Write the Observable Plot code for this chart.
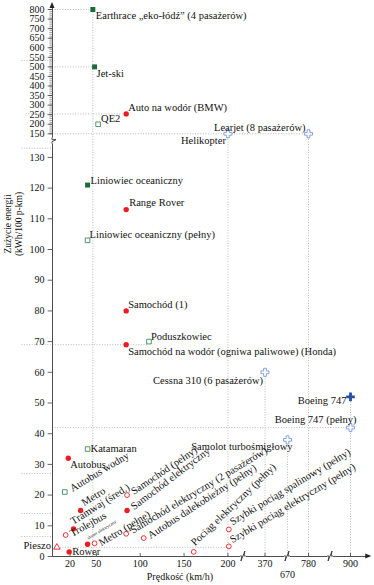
<!DOCTYPE html>
<html>
<head>
<meta charset="utf-8">
<script src="https://cdn.jsdelivr.net/npm/d3@7"></script>
<script src="https://cdn.jsdelivr.net/npm/@observablehq/plot@0.6"></script>
<style>
  html, body { margin: 0; padding: 0; background: #fff; }
  #chart svg { display: block; }
</style>
</head>
<body>
<div id="chart"></div>
<script>
// ---------- data ----------
const names = [
  "Earthrace „eko-łódź” (4 pasażerów)", "Jet-ski", "Auto na wodór (BMW)", "QE2",
  "Helikopter", "Learjet (8 pasażerów)", "Liniowiec oceaniczny", "Range Rover",
  "Liniowiec oceaniczny (pełny)", "Samochód (1)", "Poduszkowiec",
  "Samochód na wodór (ogniwa paliwowe) (Honda)", "Cessna 310 (6 pasażerów)",
  "Boeing 747", "Boeing 747 (pełny)", "Samolot turbośmigłowy", "Katamaran",
  "Autobus", "Autobus wodny", "Metro", "Tramwaj (śred.)", "Trolejbus",
  "skuter elektryczny", "Metro (pełne)", "Samochód (pełny)", "Samochód elektryczny",
  "Samochód elektryczny (2 pasażerów)", "Autobus dalekobieżny (pełny)",
  "Pociąg elektryczny (pełny)", "Szybki pociąg spalinowy (pełny)",
  "Szybki pociąg elektryczny (pełny)", "Pieszo", "Rower"
];
const speeds = [46, 48, 84, 52, 200, 780, 40, 84, 40, 84, 110, 84, 370, 900, 900, 670, 40,
  18, 14, 32, 24, 15, 40, 48, 85, 85, 84, 104, 161, 201, 201, 5, 19];
const energies = [800, 500, 254, 200, 150, 150, 121, 113, 103, 80, 70, 69, 60, 52, 42, 38, 35,
  32, 21, 15, 9, 7, 4, 4.3, 20, 15, 7.4, 6, 1.5, 8.8, 3.3, 3, 1.5];
const kinds = ["boatF", "boatF", "carF", "boatO", "planeO", "planeO", "boatF", "carF",
  "boatO", "carF", "boatO", "carF", "planeO", "planeF", "planeO", "planeO", "boatO",
  "carF", "boatO", "carF", "carF", "carO", "carF", "carO", "carO", "carF", "carO", "carO",
  "carO", "carO", "carO", "walk", "carF"];

// axis tick values
const yTicksLow = [0, 10, 20, 30, 40, 50, 60, 70, 80, 90, 100, 110, 120, 130];
const yTicksHigh = [150, 200, 250, 300, 350, 400, 450, 500, 550, 600, 650, 700, 750, 800];
const yMinorHigh = d3.range(150, 801, 10);
const xTicks = [20, 50, 100, 150, 200, 370, 780, 900];
const xTicksLow = [670];
const xBreaks = [248, 670, 843];
const yBreaks = [135.3];
const yTitle = ["Zużycie energii", "(kWh/100 p-km)"];
const xTitle = "Prędkość (km/h)";

// dotted guide lines (derived from the points)
const vGuideSpeed = [46, 200, 370, 670, 780, 900];
const vGuideTop = [800, 150, 60, 38, 150, 52];
const hGuideEnergy = [800, 500, 254, 150, 69, 42, 3];
const hGuideFrom = [0, 0, -30, 0, -35, 0, 0];
const hGuideTo = [46, 48, 84, 780, 110, 900, 201];
const stubEnergy = [533, 133, 27, 14, 6.5];

// ---------- layout / style ----------
const labelLayout = [
  [3, 6, "start", 0], [2, 7, "start", 0], [2, -6, "start", 0], [3, -6, "start", 0],
  [-2, 7, "end", 0], [-3, -6, "end", 0], [3, -4, "start", 0], [3, -7, "start", 0],
  [2, -6, "start", 0], [2, -6, "start", 0], [2, -5, "start", 0], [2, 7, "start", 0],
  [-2, 8, "end", 0], [-4, 4, "end", 0], [6, -8, "end", 0], [5, 7, "end", 0],
  [3, 0, "start", 0], [2, 6, "start", 0],
  [6, -3, "start", -31], [2, -7, "start", -32], [-2, -7, "start", -32], [5, -1, "start", -29],
  [0, -6, "start", -31], [5, 0, "start", -31], [5, -3, "start", -34], [5, -3, "start", -37],
  [5, -3, "start", -31], [5, -2, "start", -33], [-1, -8, "start", -44], [2, -7, "start", -31],
  [2, -6, "start", -31], [-6, -2, "end", 0], [3, 0, "start", 0]
];
const RED = "#ec1c24", GREEN = "#1b6b3a", GREEN2 = "#3d8a5c", BLUE = "#2a4ea6", BLUE2 = "#7b98d6";
const kindStyle = {
  carF:   {symbol: "circle", fill: RED, stroke: "none", r: 2.7},
  carO:   {symbol: "circle", fill: "white", stroke: RED, r: 2.4},
  boatF:  {symbol: "square", fill: GREEN, stroke: "none", r: 2.8},
  boatO:  {symbol: "square", fill: "white", stroke: GREEN2, r: 2.6},
  planeF: {symbol: "cross", fill: BLUE, stroke: "none", r: 3.6},
  planeO: {symbol: "cross", fill: "white", stroke: BLUE2, r: 3.4},
  walk:   {symbol: "triangle", fill: "white", stroke: RED, r: 2.4}
};

const points = names.map((name, i) => ({name, speed: speeds[i], energy: energies[i], kind: kinds[i], i}));

const FONT = "'Liberation Serif', 'DejaVu Serif', serif";
const dotted = {stroke: "#a8a8a8", strokeWidth: 0.8, strokeDasharray: "1,1.6"};

const marks = [];

// guides
marks.push(Plot.ruleX(vGuideSpeed.map((s, i) => ({s, top: vGuideTop[i]})),
  {x: "s", y1: 0, y2: "top", ...dotted}));
marks.push(Plot.ruleY(hGuideEnergy.map((e, i) => ({e, a: hGuideFrom[i], b: hGuideTo[i]})),
  {y: "e", x1: "a", x2: "b", ...dotted}));
marks.push(Plot.ruleY(stubEnergy, {y: d => d, x1: -35, x2: 0, ...dotted}));

// axes
marks.push(Plot.ruleX([0], {y1: 0, y2: 826, stroke: "#222", strokeWidth: 0.8}));
marks.push(Plot.ruleY([0], {x1: 0, x2: 955, stroke: "#222", strokeWidth: 0.8}));
marks.push(Plot.ruleY(yMinorHigh, {y: d => d, x1: -3, x2: 0, stroke: "#444", strokeWidth: 0.5}));
marks.push(Plot.ruleY([...yTicksLow, ...yTicksHigh], {y: d => d, x1: -5, x2: 0, stroke: "#222", strokeWidth: 0.7}));
marks.push(Plot.text([...yTicksLow, ...yTicksHigh], {x: 0, y: d => d, text: d => String(d),
  textAnchor: "end", dx: -8, fontSize: 10, fill: "#111"}));
marks.push(Plot.ruleX([...xTicks, ...xTicksLow], {x: d => d, y1: 0, y2: 1, stroke: "#222", strokeWidth: 0.7}));
marks.push(Plot.text(xTicks, {x: d => d, y: 0, text: d => String(d), dy: 7, fontSize: 10, fill: "#111"}));
marks.push(Plot.text(xTicksLow, {x: d => d, y: 0, text: d => String(d), dy: 18, fontSize: 10, fill: "#111"}));

// breaks and arrowheads
marks.push((index, scales) => {
  const g = d3.create("svg:g");
  const x0 = scales.x(0), y0 = scales.y(0);
  for (const b of yBreaks) {
    const y = scales.y(b);
    g.append("rect").attr("x", x0 - 3).attr("y", y - 3).attr("width", 6).attr("height", 6).attr("fill", "white");
    g.append("path").attr("d", `M${x0},${y + 3} L${x0},${y + 1} L${x0 + 4},${y - 1} L${x0},${y - 1} L${x0},${y - 3}`)
      .attr("fill", "none").attr("stroke", "#222").attr("stroke-width", 0.8);
  }
  for (const b of xBreaks) {
    const x = scales.x(b);
    g.append("rect").attr("x", x - 3).attr("y", y0 - 3).attr("width", 6).attr("height", 6).attr("fill", "white");
    g.append("path").attr("d", `M${x - 3},${y0} L${x - 1},${y0} L${x - 2},${y0 + 5} L${x + 2},${y0 - 5} L${x + 1},${y0} L${x + 3},${y0}`)
      .attr("fill", "none").attr("stroke", "#222").attr("stroke-width", 0.8);
  }
  const yt = scales.y(826), xr = scales.x(955);
  g.append("path").attr("d", `M${x0 - 2.5},${yt + 4} L${x0},${yt - 2} L${x0 + 2.5},${yt + 4} Z`).attr("fill", "#222");
  g.append("path").attr("d", `M${xr - 4},${y0 - 2.5} L${xr + 2},${y0} L${xr - 4},${y0 + 2.5} Z`).attr("fill", "#222");
  return g.node();
});

// points
for (const k of Object.keys(kindStyle)) {
  const s = kindStyle[k];
  marks.push(Plot.dot(points.filter(d => d.kind === k), {
    x: "speed", y: "energy", symbol: s.symbol, r: s.r, fill: s.fill, stroke: s.stroke, strokeWidth: 0.9
  }));
}

// labels
points.forEach((d, i) => {
  const [dx, dy, anchor, rot] = labelLayout[i];
  marks.push(Plot.text([d], {
    x: "speed", y: "energy", text: "name", dx, dy, textAnchor: anchor, rotate: rot,
    fontSize: d.name === "skuter elektryczny" ? 4.5 : 10.5, fill: "#111"
  }));
});

// axis titles (positioned in frame pixels via a render function)
marks.push((index, scales, values, dimensions) => {
  const g = d3.create("svg:g").attr("fill", "#111").attr("font-size", 9.5);
  yTitle.forEach((t, i) => {
    g.append("text").attr("text-anchor", "middle").style("text-anchor", "middle")
      .attr("transform", `translate(${11 + i * 11},224) rotate(-90)`).text(t);
  });
  g.append("text").attr("font-size", 10).attr("text-anchor", "middle").style("text-anchor", "middle")
    .attr("transform", `translate(${dimensions.width / 2 - 7},580)`).text(xTitle);
  return g.node();
});

const chart = Plot.plot({
  width: 374,
  height: 585,
  margin: 0,
  style: {fontFamily: FONT, background: "white", overflow: "visible"},
  x: {type: "linear", domain: [0, 210, 370, 670, 780, 900, 960], range: [52, 236.2, 264.5, 287, 308, 350, 371], axis: null},
  y: {type: "linear", domain: [0, 136, 150, 800, 830], range: [556, 138.5, 133.3, 9, 3.2], axis: null},
  marks
});
document.getElementById("chart").appendChild(chart);
</script>
</body>
</html>
